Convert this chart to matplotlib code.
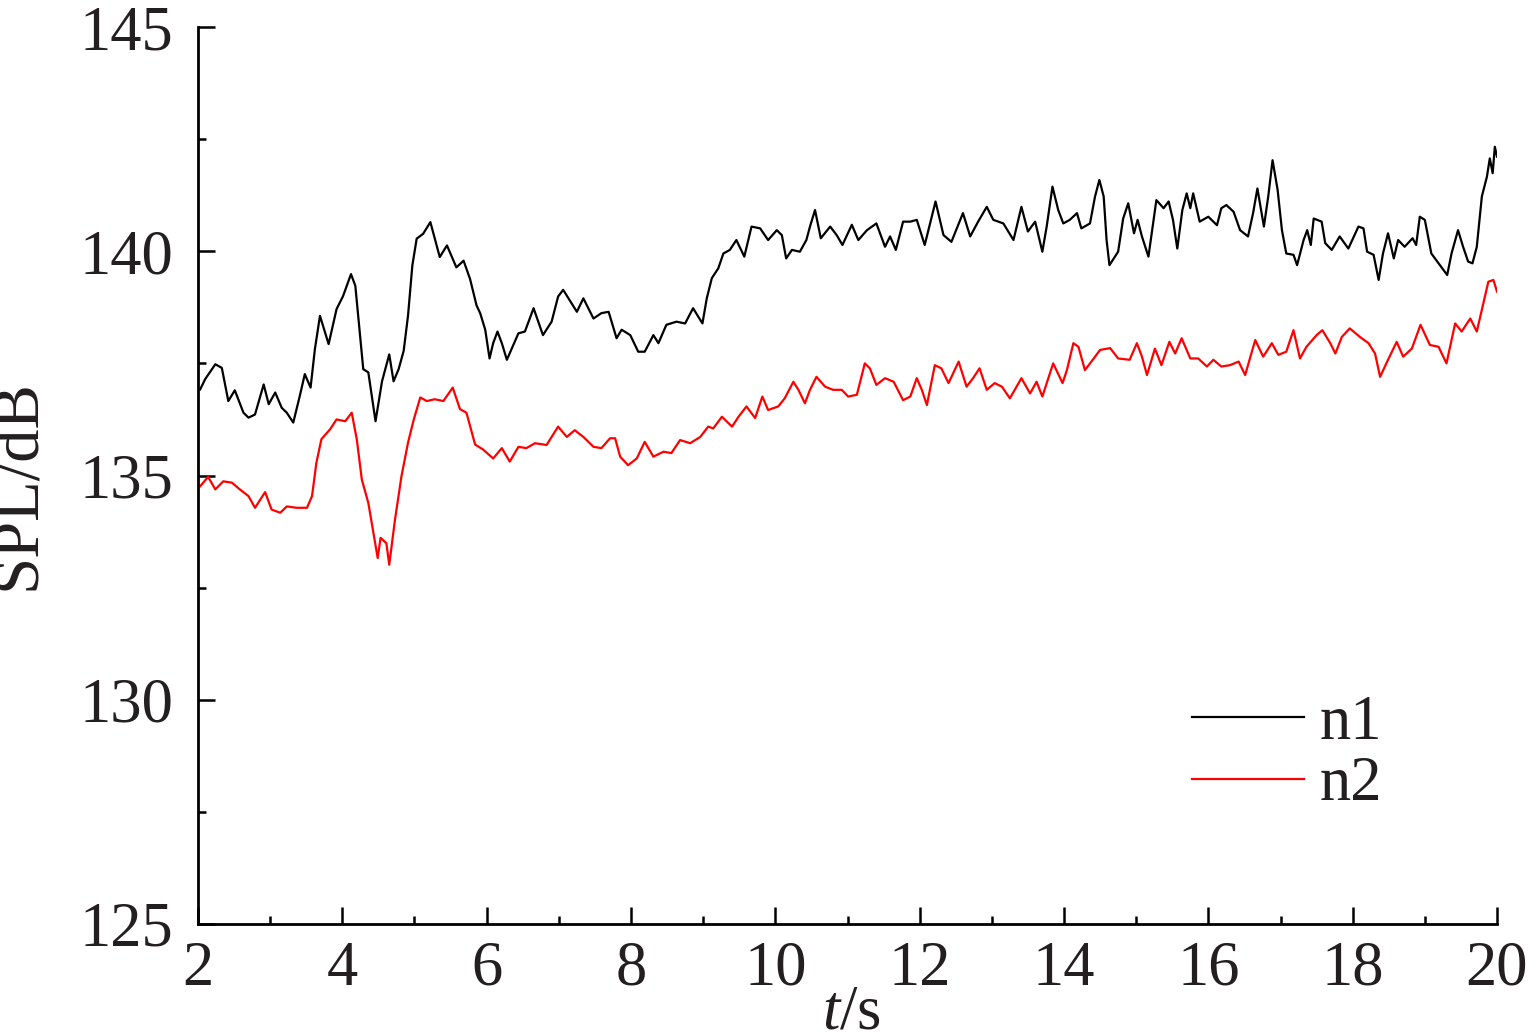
import matplotlib
matplotlib.use("Agg")
import matplotlib.pyplot as plt
from matplotlib.ticker import MultipleLocator

t_n1 = [2.03, 2.10, 2.24, 2.33, 2.42, 2.51, 2.63, 2.70, 2.79, 2.91, 2.98, 3.07, 3.16, 3.23, 3.32, 3.41, 3.48, 3.56, 3.62, 3.69,
        3.81, 3.92, 4.01, 4.12, 4.18, 4.29, 4.36, 4.46, 4.55, 4.65, 4.71, 4.78, 4.85, 4.91, 4.97, 5.03, 5.12, 5.22, 5.35, 5.45,
        5.58, 5.68, 5.77, 5.86, 5.91, 5.98, 6.04, 6.09, 6.15, 6.21, 6.28, 6.35, 6.44, 6.53, 6.65, 6.78, 6.90, 6.99, 7.06, 7.15,
        7.25, 7.34, 7.48, 7.59, 7.69, 7.80, 7.87, 7.99, 8.10, 8.19, 8.31, 8.38, 8.49, 8.63, 8.75, 8.86, 8.99, 9.05, 9.12, 9.21,
        9.28, 9.37, 9.46, 9.57, 9.67, 9.79, 9.90, 10.02, 10.09, 10.15, 10.23, 10.34, 10.43, 10.48, 10.55, 10.63, 10.76, 10.85,
        10.93, 11.06, 11.15, 11.27, 11.40, 11.52, 11.59, 11.67, 11.77, 11.87, 11.96, 12.07, 12.14, 12.22, 12.33, 12.44, 12.60,
        12.70, 12.81, 12.93, 13.02, 13.16, 13.30, 13.41, 13.50, 13.60, 13.70, 13.76, 13.84, 13.92, 13.99, 14.08, 14.18, 14.24,
        14.36, 14.43, 14.49, 14.55, 14.59, 14.63, 14.75, 14.82, 14.89, 14.97, 15.02, 15.08, 15.17, 15.28, 15.38, 15.45, 15.51,
        15.57, 15.64, 15.70, 15.75, 15.79, 15.88, 16.00, 16.12, 16.18, 16.25, 16.35, 16.44, 16.55, 16.62, 16.68, 16.77, 16.83,
        16.89, 16.96, 17.02, 17.08, 17.18, 17.23, 17.32, 17.37, 17.42, 17.46, 17.57, 17.62, 17.71, 17.82, 17.94, 18.08, 18.15,
        18.20, 18.29, 18.36, 18.42, 18.49, 18.57, 18.63, 18.72, 18.83, 18.88, 18.93, 19.00, 19.09, 19.21, 19.31, 19.37, 19.46,
        19.53, 19.60, 19.66, 19.72, 19.79, 19.86, 19.90, 19.94, 19.97, 20.00]
spl_n1 = [136.92, 137.15, 137.48, 137.40, 136.66, 136.90, 136.40, 136.29, 136.36, 137.03, 136.59, 136.85, 136.51, 136.40,
          136.18, 136.77, 137.26, 136.96, 137.82, 138.56, 137.93, 138.71, 139.00, 139.49, 139.23, 137.37, 137.30, 136.21,
          137.10, 137.70, 137.10, 137.37, 137.78, 138.56, 139.68, 140.28, 140.39, 140.65, 139.87, 140.13, 139.64, 139.79,
          139.38, 138.79, 138.62, 138.25, 137.61, 137.95, 138.21, 137.95, 137.58, 137.84, 138.17, 138.21, 138.73, 138.13,
          138.43, 138.99, 139.14, 138.91, 138.65, 138.95, 138.50, 138.62, 138.65, 138.06, 138.25, 138.13, 137.76, 137.76,
          138.13, 137.95, 138.36, 138.43, 138.39, 138.73, 138.39, 138.95, 139.40, 139.62, 139.95, 140.03, 140.25, 139.88,
          140.55, 140.51, 140.25, 140.47, 140.36, 139.84, 140.03, 139.99, 140.25, 140.55, 140.92, 140.29, 140.55, 140.36,
          140.14, 140.59, 140.25, 140.47, 140.62, 140.10, 140.33, 140.03, 140.66, 140.66, 140.70, 140.14, 140.59, 141.11,
          140.36, 140.21, 140.85, 140.33, 140.66, 140.99, 140.70, 140.62, 140.25, 140.99, 140.44, 140.66, 139.99, 140.55,
          141.44, 140.92, 140.62, 140.70, 140.85, 140.51, 140.62, 141.22, 141.59, 141.22, 140.25, 139.69, 139.99, 140.73,
          141.07, 140.40, 140.70, 140.33, 139.88, 141.14, 140.96, 141.11, 140.70, 140.06, 140.92, 141.29, 140.96, 141.29,
          140.66, 140.77, 140.58, 140.96, 141.03, 140.88, 140.47, 140.33, 140.85, 141.40, 140.55, 141.22, 142.03, 141.37,
          140.47, 139.95, 139.92, 139.69, 140.25, 140.47, 140.14, 140.73, 140.66, 140.18, 140.03, 140.33, 140.06, 140.55,
          140.51, 139.99, 139.92, 139.36, 139.95, 140.40, 139.84, 140.25, 140.10, 140.29, 140.14, 140.77, 140.70, 139.95,
          139.69, 139.47, 139.95, 140.47, 140.10, 139.77, 139.73, 140.10, 141.22, 141.66, 142.07, 141.74, 142.33, 142.11]

t_n2 = [2.03, 2.14, 2.24, 2.35, 2.47, 2.58, 2.70, 2.79, 2.93, 3.02, 3.14, 3.23, 3.37, 3.51, 3.58, 3.64, 3.71, 3.83, 3.92, 4.04,
        4.13, 4.20, 4.27, 4.36, 4.43, 4.49, 4.53, 4.61, 4.65, 4.73, 4.82, 4.91, 4.99, 5.08, 5.17, 5.28, 5.40, 5.53, 5.63, 5.72,
        5.84, 5.95, 6.09, 6.21, 6.32, 6.44, 6.55, 6.67, 6.83, 6.99, 7.11, 7.22, 7.34, 7.48, 7.59, 7.71, 7.78, 7.85, 7.96, 8.08,
        8.19, 8.31, 8.45, 8.56, 8.68, 8.82, 8.96, 9.07, 9.14, 9.26, 9.40, 9.49, 9.60, 9.72, 9.82, 9.90, 10.04, 10.13, 10.25,
        10.32, 10.41, 10.48, 10.57, 10.69, 10.80, 10.92, 11.01, 11.13, 11.24, 11.31, 11.40, 11.52, 11.64, 11.77, 11.87, 11.96,
        12.03, 12.10, 12.21, 12.30, 12.40, 12.54, 12.65, 12.74, 12.83, 12.93, 13.04, 13.14, 13.25, 13.41, 13.53, 13.62, 13.70,
        13.85, 13.98, 14.04, 14.13, 14.20, 14.29, 14.38, 14.50, 14.64, 14.75, 14.91, 15.01, 15.08, 15.15, 15.26, 15.35, 15.46,
        15.54, 15.63, 15.75, 15.86, 15.98, 16.07, 16.18, 16.30, 16.42, 16.51, 16.65, 16.76, 16.88, 16.97, 17.08, 17.18, 17.27,
        17.36, 17.50, 17.58, 17.69, 17.76, 17.85, 17.96, 18.10, 18.22, 18.31, 18.38, 18.49, 18.61, 18.70, 18.82, 18.94, 19.07,
        19.19, 19.30, 19.42, 19.51, 19.63, 19.72, 19.81, 19.88, 19.95, 20.00]
spl_n2 = [134.76, 134.97, 134.69, 134.87, 134.84, 134.69, 134.54, 134.28, 134.63, 134.24, 134.17, 134.31, 134.28, 134.28,
          134.54, 135.28, 135.81, 136.03, 136.25, 136.21, 136.40, 135.81, 134.91, 134.39, 133.72, 133.16, 133.61, 133.49,
          133.01, 134.02, 134.99, 135.73, 136.25, 136.74, 136.66, 136.70, 136.66, 136.96, 136.48, 136.40, 135.69, 135.58,
          135.38, 135.61, 135.31, 135.64, 135.61, 135.72, 135.68, 136.09, 135.86, 136.01, 135.86, 135.64, 135.61, 135.83,
          135.83, 135.42, 135.23, 135.38, 135.75, 135.42, 135.53, 135.50, 135.79, 135.72, 135.86, 136.09, 136.05, 136.31,
          136.09, 136.31, 136.54, 136.28, 136.76, 136.46, 136.54, 136.72, 137.09, 136.91, 136.61, 136.91, 137.20, 136.98,
          136.91, 136.91, 136.76, 136.80, 137.50, 137.39, 137.02, 137.17, 137.09, 136.68, 136.76, 137.17, 136.91, 136.57,
          137.46, 137.39, 137.06, 137.54, 136.98, 137.17, 137.39, 136.91, 137.06, 136.98, 136.72, 137.17, 136.83, 137.09,
          136.76, 137.50, 137.06, 137.35, 137.95, 137.87, 137.35, 137.54, 137.80, 137.84, 137.61, 137.58, 137.95, 137.65,
          137.24, 137.83, 137.46, 137.98, 137.72, 138.06, 137.61, 137.61, 137.43, 137.58, 137.43, 137.46, 137.54, 137.24,
          138.02, 137.65, 137.95, 137.69, 137.76, 138.24, 137.61, 137.87, 138.13, 138.24, 137.95, 137.72, 138.09, 138.28,
          138.09, 137.95, 137.72, 137.20, 137.58, 137.98, 137.65, 137.83, 138.36, 137.91, 137.87, 137.50, 138.39, 138.21,
          138.50, 138.21, 138.84, 139.32, 139.36, 139.10]

x_ticks = [2, 4, 6, 8, 10, 12, 14, 16, 18, 20]
y_ticks = [125, 130, 135, 140, 145]
series_labels = ["n1", "n2"]

TXT = "#231f20"
plt.rcParams["font.family"] = ["Liberation Serif", "DejaVu Serif"]
plt.rcParams["mathtext.fontset"] = "custom"
plt.rcParams["mathtext.rm"] = "Liberation Serif"
plt.rcParams["mathtext.it"] = "Liberation Serif:italic"

fig = plt.figure(figsize=(15.33, 10.32), dpi=100)
ax = fig.add_axes([198 / 1533, 1 - 924 / 1032, (1497 - 198) / 1533, (924 - 27) / 1032])

ax.plot(t_n1, spl_n1, color="black", lw=1.6, label=series_labels[0])
ax.plot(t_n2, spl_n2, color="#ff0000", lw=1.6, label=series_labels[1])

ax.set_xlim(2, 20)
ax.set_ylim(125, 145)
ax.set_xticks(x_ticks)
ax.set_yticks(y_ticks)
ax.xaxis.set_minor_locator(MultipleLocator(1))
ax.yaxis.set_minor_locator(MultipleLocator(2.5))

for s in ["top", "right"]:
    ax.spines[s].set_visible(False)
for s in ["left", "bottom"]:
    ax.spines[s].set_linewidth(2.0)
    ax.spines[s].set_color("black")

ax.tick_params(which="major", direction="in", length=12, width=1.8, labelsize=45, labelcolor=TXT)
ax.tick_params(which="minor", direction="in", length=6, width=1.8)
ax.tick_params(axis="y", which="major", pad=18)
ax.tick_params(axis="x", which="major", pad=12)

ax.set_ylabel("SPL/dB", fontsize=48, color=TXT)
ax.yaxis.set_label_coords(-0.1145, 0.49)
ax.set_xlabel(r"$t$/s", fontsize=45, color=TXT)
ax.xaxis.set_label_coords(0.503, -0.068)

leg = ax.legend(loc="upper left", bbox_to_anchor=(0.765, 0.255), frameon=False, fontsize=45,
                handlelength=1.8, handletextpad=0.25, labelspacing=0.05, borderpad=0, borderaxespad=0)
for txt in leg.get_texts():
    txt.set_color(TXT)

fig.savefig("out.png", dpi=100)
